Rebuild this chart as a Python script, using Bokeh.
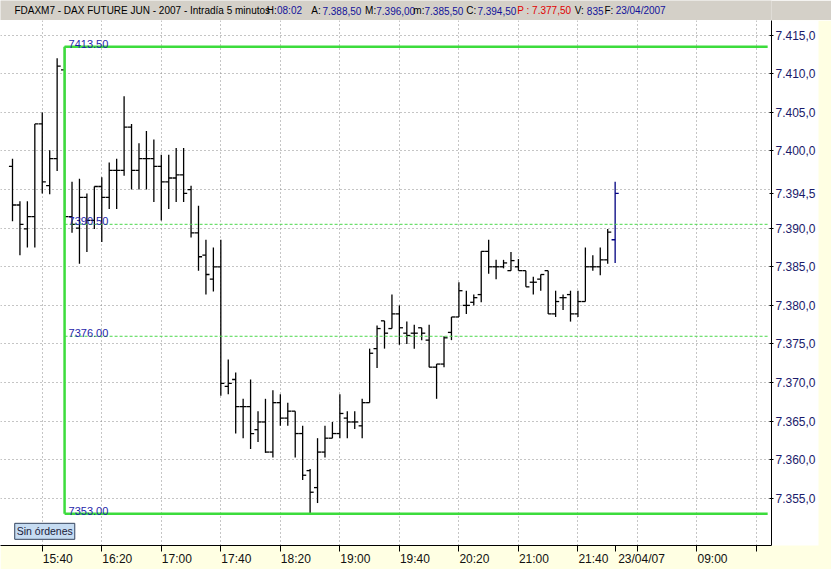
from bokeh.plotting import figure
from bokeh.models import FixedTicker, LinearAxis, Range1d, Label, ColumnDataSource
from bokeh.layouts import column
from bokeh.embed import file_html
from bokeh.resources import INLINE
from bokeh.core.properties import value
from bokeh.transform import dodge

# ---------------- data (5-minute OHLC bars, FDAXM7) ----------------
opens = [7398.0, 7393.0, 7389.9, 7391.5, 7403.5, 7395.5, 7399.0, 7410.5, 7391.5, 7390.0,
         7394.0, 7391.0, 7395.4, 7394.0, 7397.5, 7397.5, 7403.1, 7397.5, 7399.0, 7399.0,
         7398.0, 7396.0, 7396.5, 7396.9, 7395.0, 7389.4, 7386.5, 7383.4, 7385.0, 7369.5,
         7370.4, 7366.9, 7366.9, 7363.9, 7364.9, 7361.0, 7367.4, 7365.4, 7366.3, 7363.4,
         7358.6, 7356.4, 7361.0, 7362.8, 7363.4, 7365.4, 7364.9, 7364.4, 7367.4, 7374.4,
         7378.0, 7377.0, 7378.9, 7376.4, 7376.4, 7377.1, 7375.5, 7372.0, 7372.4, 7376.5,
         7378.5, 7380.0, 7380.4, 7381.4, 7387.0, 7385.0, 7385.0, 7384.5, 7385.0, 7384.5,
         7383.0, 7383.4, 7384.5, 7378.9, 7381.0, 7381.4, 7378.9, 7380.5, 7385.0, 7385.0,
         7385.9, 7388.5]
highs = [7399.0, 7393.5, 7393.5, 7403.5, 7405.0, 7400.1, 7412.0, 7413.5, 7396.0, 7396.4,
         7394.5, 7395.4, 7396.6, 7398.5, 7399.0, 7407.1, 7403.5, 7401.0, 7402.6, 7401.5,
         7399.5, 7399.5, 7400.4, 7400.4, 7395.5, 7392.9, 7388.5, 7387.5, 7388.5, 7373.0,
         7371.3, 7367.9, 7370.4, 7366.3, 7367.9, 7369.0, 7368.5, 7367.4, 7366.3, 7364.4,
         7358.8, 7362.8, 7364.4, 7364.9, 7368.5, 7366.3, 7366.3, 7367.9, 7374.4, 7377.4,
         7378.0, 7381.4, 7380.0, 7377.9, 7377.5, 7377.1, 7377.5, 7372.4, 7376.0, 7378.5,
         7383.0, 7381.9, 7381.4, 7387.0, 7388.5, 7385.9, 7385.9, 7386.9, 7386.0, 7384.5,
         7383.7, 7384.0, 7384.5, 7381.9, 7381.4, 7381.9, 7381.9, 7387.5, 7386.5, 7387.5,
         7389.9, 7396.0]
lows = [7390.9, 7386.5, 7387.5, 7387.5, 7394.5, 7394.4, 7397.4, 7391.0, 7389.4, 7385.4,
        7386.9, 7389.9, 7388.2, 7392.5, 7392.5, 7396.8, 7395.0, 7395.0, 7395.0, 7393.4,
        7391.0, 7392.5, 7393.4, 7393.4, 7388.8, 7384.5, 7381.4, 7381.8, 7368.3, 7368.5,
        7363.4, 7362.8, 7361.4, 7362.3, 7360.9, 7360.3, 7364.4, 7364.4, 7360.3, 7357.4,
        7353.0, 7354.4, 7360.3, 7362.8, 7362.8, 7362.8, 7364.0, 7362.8, 7367.4, 7371.9,
        7374.4, 7377.0, 7374.9, 7375.0, 7374.4, 7375.5, 7372.0, 7367.9, 7372.0, 7375.5,
        7378.5, 7378.9, 7380.0, 7380.4, 7384.1, 7383.4, 7384.8, 7384.5, 7384.5, 7382.4,
        7381.4, 7381.9, 7378.9, 7378.5, 7379.4, 7377.9, 7378.5, 7380.5, 7384.5, 7383.9,
        7385.4, 7385.5]
closes = [7393.0, 7390.5, 7391.5, 7403.5, 7396.0, 7399.0, 7411.0, 7391.5, 7390.5, 7394.0,
          7391.0, 7395.4, 7394.0, 7397.5, 7397.5, 7403.1, 7397.5, 7399.0, 7399.0, 7398.0,
          7396.0, 7396.5, 7396.9, 7394.5, 7389.4, 7386.3, 7384.0, 7385.0, 7369.9, 7369.9,
          7366.9, 7366.9, 7363.4, 7364.9, 7361.0, 7367.4, 7365.4, 7366.3, 7363.4, 7358.0,
          7355.8, 7361.0, 7362.8, 7363.4, 7366.0, 7364.9, 7364.9, 7367.4, 7373.8, 7377.0,
          7376.4, 7378.9, 7377.1, 7376.1, 7376.4, 7376.4, 7372.0, 7372.4, 7375.8, 7378.5,
          7381.9, 7380.0, 7381.0, 7387.0, 7385.0, 7385.0, 7385.5, 7385.8, 7384.5, 7382.4,
          7383.0, 7384.0, 7378.9, 7380.5, 7381.0, 7378.9, 7380.5, 7385.0, 7385.0, 7385.9,
          7389.5, 7394.5]
bar_index = list(range(len(opens)))   # 0 = 15:20 bar, 81 = first bar of 23/04/07

grid_ticks = [4, 12, 20, 28, 36, 44, 52, 60, 68, 76, 84, 92, 100]
time_ticks = [4, 12, 20, 28, 36, 44, 52, 60, 68, 76, 92]
time_labels = ["15:40", "16:20", "17:00", "17:40", "18:20", "19:00", "19:40",
               "20:20", "21:00", "21:40", "09:00"]
day_tick = 81
day_label = "23/04/07"

grid_prices = [7355, 7360, 7365, 7370, 7375, 7380, 7385, 7390, 7395, 7400, 7405, 7410, 7415]
price_ticks = [7355, 7360, 7365, 7370, 7375, 7380, 7385, 7390, 7400, 7405, 7410, 7415]
price_labels = ["7.355,0", "7.360,0", "7.365,0", "7.370,0", "7.375,0", "7.380,0", "7.385,0",
                "7.390,0", "7.400,0", "7.405,0", "7.410,0", "7.415,0"]
last_price = 7394.5
last_price_text = "7.394,5"

fib_levels = [7413.50, 7390.50, 7376.00, 7353.00]
fib_texts = ["7413.50", "7390.50", "7376.00", "7353.00"]
fib_solid = [True, False, False, True]
fib_start_bar = 7
fib_end_bar = 101.5

BLACK, NAVY, RED = "#000000", "#12129A", "#E00000"
header_parts = [
    ("FDAXM7 - DAX FUTURE  JUN - 2007 - Intradía 5 minutos", 15, BLACK),
    ("H:", 287, BLACK), ("08:02", 298, NAVY),
    ("A:", 335, BLACK), ("7.388,50", 347, NAVY),
    ("M:", 393, BLACK), ("7.396,00", 405, NAVY),
    ("m:", 445, BLACK), ("7.385,50", 457, NAVY),
    ("C:", 502, BLACK), ("7.394,50", 514, NAVY),
    ("P : 7.377,50", 557, RED),
    ("V:", 619, BLACK), ("835", 632, NAVY),
    ("F:", 651, BLACK), ("23/04/2007", 663, NAVY),
]

# ---------------- geometry ----------------
FONT = "Liberation Sans"
W = 831
HEADER_H = 20
MAIN_H = 549
FRAME_W = 771
BOTTOM_H = 24
BAR_PX = 7.44
FIRST_BAR_PX = 12
X_START = -FIRST_BAR_PX / BAR_PX
X_END = X_START + FRAME_W / BAR_PX
Y_TOP = 7416.9
Y_BOTTOM = 7348.9

# ---------------- header bar ----------------
hdr = figure(width=W, height=HEADER_H, x_range=Range1d(0, W), y_range=Range1d(0, HEADER_H),
             output_backend="svg", toolbar_location=None, x_axis_location=None,
             y_axis_location=None, min_border=0, background_fill_color="#D4D0C8",
             border_fill_color="#D4D0C8", outline_line_color=None)
hdr.grid.visible = False
hsrc = ColumnDataSource(dict(
    x=[px for _, px, _ in header_parts],
    y=[10.0] * len(header_parts),
    text=[t for t, _, _ in header_parts],
    color=[c for _, _, c in header_parts]))
hdr.text(x="x", y="y", text="text", text_color="color", source=hsrc,
         text_font=value(FONT), text_font_size="10px",
         text_baseline="middle", text_align="left")

# ---------------- main chart ----------------
p = figure(width=W, height=MAIN_H, x_range=Range1d(X_START, X_END),
           y_range=Range1d(Y_BOTTOM, Y_TOP), output_backend="svg", toolbar_location=None,
           x_axis_location=None, y_axis_location="right",
           min_border_left=0, min_border_right=W - FRAME_W, min_border_top=0,
           min_border_bottom=BOTTOM_H, background_fill_color="white",
           border_fill_color="#FFFFE3", outline_line_color=None)

# grids
p.xgrid.ticker = FixedTicker(ticks=grid_ticks)
p.ygrid.ticker = FixedTicker(ticks=grid_prices)
for g in (p.xgrid[0], p.ygrid[0]):
    g.grid_line_color = "#8A8A8A"
    g.grid_line_dash = "1 3"
    g.grid_line_width = 1

# right price axis (with the last-price marker as an extra tick)
ya = p.yaxis[0]
ya.ticker = FixedTicker(ticks=price_ticks + [last_price])
ya.major_label_overrides = {**{t: s for t, s in zip(price_ticks, price_labels)},
                            last_price: last_price_text}
ya.major_tick_in = 2
ya.major_tick_out = 2
ya.minor_tick_in = 0
ya.minor_tick_out = 0
ya.major_label_standoff = 2
ya.axis_line_color = "black"
ya.major_tick_line_color = "black"
ya.major_label_text_font = FONT
ya.major_label_text_font_size = "12px"
ya.major_label_text_color = "#1A1A6A"
if "background_fill_color" in ya.properties():
    ya.background_fill_color = "white"

# bottom time axis: ticks only
ax_ticks = LinearAxis(ticker=FixedTicker(ticks=grid_ticks + [day_tick]),
                      major_tick_out=6, major_tick_in=0, minor_tick_out=0, minor_tick_in=0,
                      major_label_text_font_size="0px", major_label_standoff=0,
                      axis_line_color="black", major_tick_line_color="black",
                      major_label_overrides={t: "" for t in grid_ticks + [day_tick]})
p.add_layout(ax_ticks, "below")


def text_w(s, size=12.0):
    w = {":": 0.278, "/": 0.278, ".": 0.278, ",": 0.278}
    return sum(w.get(ch, 0.556) for ch in s) * size


lab_pos = [t + (0.5 + text_w(s) / 2) / BAR_PX for t, s in zip(time_ticks, time_labels)]
day_pos = day_tick + (3 + text_w(day_label) / 2) / BAR_PX
ax_labels = LinearAxis(ticker=FixedTicker(ticks=lab_pos + [day_pos]),
                       major_label_overrides={**{t: s for t, s in zip(lab_pos, time_labels)},
                                              day_pos: day_label},
                       major_tick_out=0, major_tick_in=0, minor_tick_out=0, minor_tick_in=0,
                       axis_line_color=None, major_label_standoff=0,
                       major_label_text_font=FONT, major_label_text_font_size="12px",
                       major_label_text_color="#111111")
p.add_layout(ax_labels, "below")

# OHLC bars
colors = ["black"] * (len(opens) - 1) + ["#000080"]
src = ColumnDataSource(dict(x=bar_index, o=opens, h=highs, l=lows, c=closes, col=colors))
p.segment(x0="x", y0="l", x1="x", y1="h", source=src, line_color="col", line_width=1.3)
p.segment(x0=dodge("x", -0.48, range=p.x_range), y0="o", x1="x", y1="o", source=src,
          line_color="col", line_width=1.3)
p.segment(x0="x", y0="c", x1=dodge("x", 0.48, range=p.x_range), y1="c", source=src,
          line_color="col", line_width=1.3)

# Fibonacci retracement tool
GREEN = "#3CDC3C"
solid_y = [y for y, s in zip(fib_levels, fib_solid) if s]
dash_y = [y for y, s in zip(fib_levels, fib_solid) if not s]
p.segment(x0=[fib_start_bar] * len(dash_y), y0=dash_y, x1=[fib_end_bar] * len(dash_y),
          y1=dash_y, line_color="#4CD84C", line_width=1, line_dash="3 2")
p.segment(x0=[fib_start_bar] * len(solid_y), y0=solid_y, x1=[fib_end_bar] * len(solid_y),
          y1=solid_y, line_color=GREEN, line_width=2.5)
p.segment(x0=[fib_start_bar], y0=[min(fib_levels)], x1=[fib_start_bar], y1=[max(fib_levels)],
          line_color=GREEN, line_width=2.5)
p.text(x=[fib_start_bar] * len(fib_levels), y=fib_levels, text=fib_texts,
       text_color="#1E1EAA", text_font=value(FONT), text_font_size="11px",
       text_baseline="alphabetic", text_align="left", x_offset=4, y_offset=-3)

# "Sin órdenes" status box
p.add_layout(Label(x=bar_index[0] + 0.3, y=Y_BOTTOM + 0.8, text="Sin órdenes",
                   text_font=FONT, text_font_size="10.5px", text_color="#1A1A3A",
                   text_baseline="bottom", text_align="left",
                   background_fill_color="#C6DCF2", border_line_color="#34445E",
                   padding=2))

layout = column(hdr, p, spacing=0)
open("out.html", "w").write(file_html(layout, INLINE))
